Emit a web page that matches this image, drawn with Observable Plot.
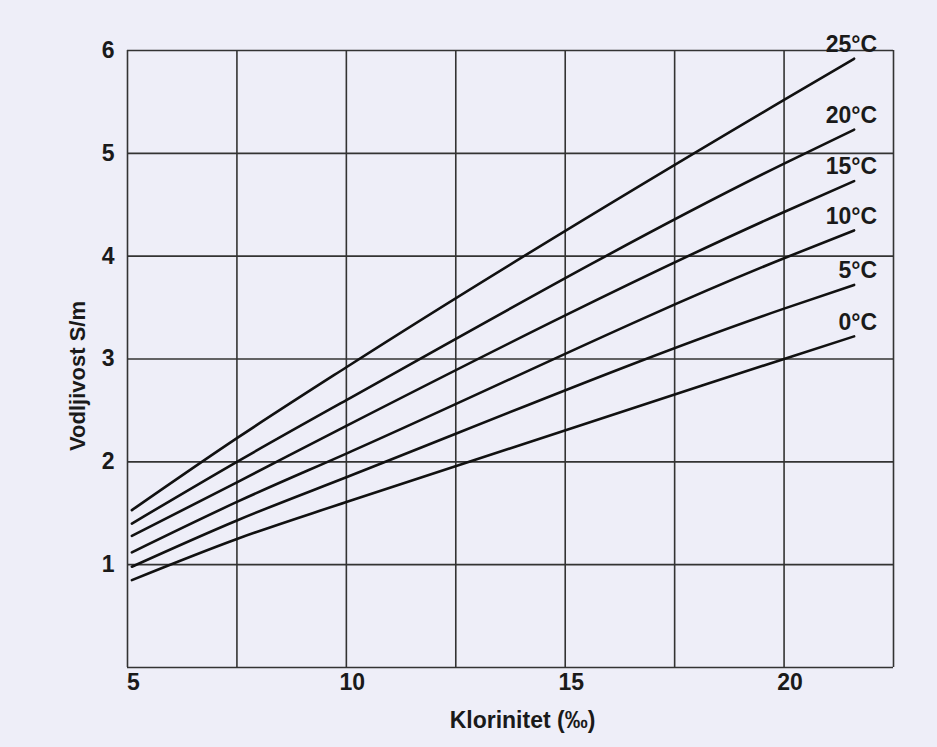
<!DOCTYPE html>
<html>
<head>
<meta charset="utf-8">
<script src="https://cdn.jsdelivr.net/npm/d3@7"></script>
<script src="https://cdn.jsdelivr.net/npm/@observablehq/plot@0.6"></script>
<style>
  html, body { margin: 0; padding: 0; background: #eeeef8; }
  #chart svg { display: block; }
</style>
</head>
<body>
<div id="chart"></div>
<script>
// Temperature series (°C)
const temps = ["0°C", "5°C", "10°C", "15°C", "20°C", "25°C"];
// Chlorinity positions (‰) where values were read
const chlorinity = [5.1, 7.5, 10, 20, 21.6];
// Conductivity (S/m) per series at those chlorinity positions
const cond0  = [0.85, 1.25, 1.61, 3.00, 3.22];
const cond5  = [0.98, 1.43, 1.85, 3.49, 3.72];
const cond10 = [1.12, 1.61, 2.08, 3.98, 4.25];
const cond15 = [1.28, 1.80, 2.35, 4.43, 4.73];
const cond20 = [1.40, 2.00, 2.60, 4.90, 5.23];
const cond25 = [1.53, 2.23, 2.92, 5.52, 5.92];
const series = [cond0, cond5, cond10, cond15, cond20, cond25];

// Axis ticks / grid
const xTicks = [5, 10, 15, 20];
const xGrid = [5, 7.5, 10, 12.5, 15, 17.5, 20, 22.5];
const yTicks = [1, 2, 3, 4, 5, 6];
const yGrid = [0, 1, 2, 3, 4, 5, 6];
const xLabel = "Klorinitet (‰)";
const yLabel = "Vodljivost S/m";

const data = [];
series.forEach((vals, i) => vals.forEach((v, j) => data.push({temp: temps[i], x: chlorinity[j], y: v})));
const ends = series.map((vals, i) => ({temp: temps[i], x: chlorinity[chlorinity.length - 1], y: vals[vals.length - 1]}));

const font = "'Liberation Sans', Arial, Helvetica, sans-serif";
const ink = "#1a1a1a";

const chart = Plot.plot({
  width: 937,
  height: 747,
  marginLeft: 127,
  marginRight: 44,
  marginTop: 50,
  marginBottom: 80,
  style: {background: "#eeeef8", fontFamily: font, fontSize: "23px", fontWeight: "bold", color: ink},
  x: {domain: [5, 22.5]},
  y: {domain: [0, 6]},
  marks: [
    Plot.ruleY(yGrid, {stroke: "#333", strokeWidth: 1.6}),
    Plot.ruleX(xGrid, {stroke: "#333", strokeWidth: 1.6}),
    Plot.axisY({ticks: yTicks, tickFormat: d => String(d), tickSize: 0, tickPadding: 13, label: null, fontSize: 23, fill: ink}),
    Plot.axisX({ticks: xTicks, tickFormat: d => String(d), tickSize: 0, tickPadding: 6, label: null, fontSize: 23, dx: 6, fill: ink}),
    Plot.line(data, {x: "x", y: "y", z: "temp", curve: "monotone-x", stroke: "#111", strokeWidth: 2.6}),
    Plot.text(ends, {x: "x", y: "y", text: "temp", textAnchor: "end", dx: 23, dy: -14, fontSize: 23, fill: ink}),
    Plot.text([xLabel], {frameAnchor: "bottom", text: d => d, textAnchor: "middle", lineAnchor: "middle", dx: 12, dy: 53, fontSize: 23, fill: ink}),
    Plot.text([yLabel], {frameAnchor: "left", text: d => d, textAnchor: "middle", lineAnchor: "middle", rotate: -90, dx: -50, dy: 17, fontSize: 22, fill: ink})
  ]
});
document.getElementById("chart").appendChild(chart);
</script>
</body>
</html>
